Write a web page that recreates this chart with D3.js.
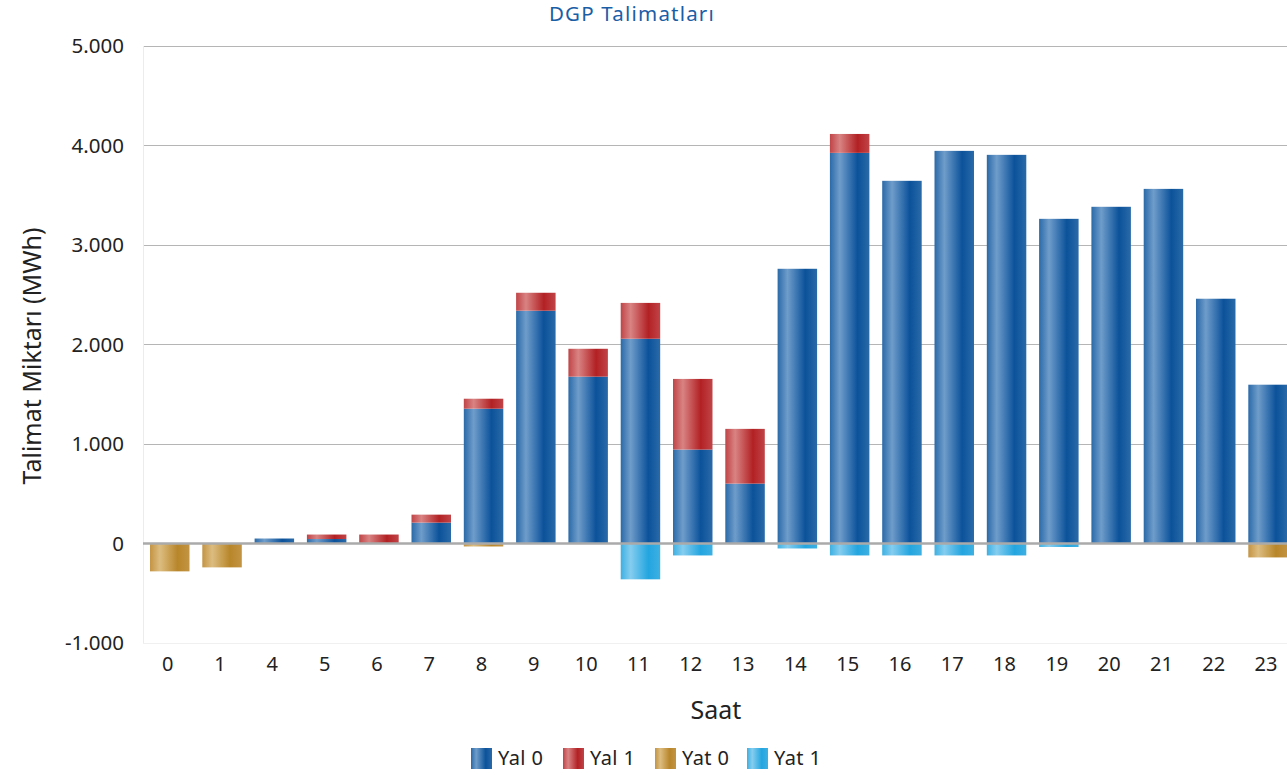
<!DOCTYPE html>
<html><head><meta charset="utf-8">
<script src="https://cdn.jsdelivr.net/npm/d3@7"></script>
<style>body{margin:0;background:#fff;font-family:"Noto Sans",sans-serif;}</style>
</head><body><svg id="c" width="1287" height="775"></svg>
<script>
const hours = ["0","1","4","5","6","7","8","9","10","11","12","13","14","15","16","17","18","19","20","21","22","23"];
const yal0 = [0,0,50,45,0,210,1355,2340,1677,2058,944,602,2761,3926,3645,3946,3906,3263,3384,3564,2460,1596];
const yal1 = [0,0,0,45,90,80,100,180,280,360,710,550,0,190,0,0,0,0,0,0,0,0];
const yat0 = [-280,-240,0,0,0,0,-30,0,0,0,0,0,0,0,0,0,0,0,0,0,0,-140];
const yat1 = [0,0,0,0,0,0,0,0,0,-360,-120,0,-50,-120,-120,-120,-120,-35,0,0,0,0];
const seriesNames = ["Yal 0","Yal 1","Yat 0","Yat 1"];
const yTicks = [-1000,0,1000,2000,3000,4000,5000];

const colors = {
  "Yal 0": ["#6f9dca","#0b529a","#2a6aa8"],
  "Yal 1": ["#d98383","#b22124","#c04447"],
  "Yat 0": ["#dcbd80","#b8862a","#c39443"],
  "Yat 1": ["#85cdef","#23a5df","#3db0e2"]
};

const svg = d3.select("#c");
const W = 1287, H = 775;
const x = d3.scaleBand().domain(hours).range([143.6, 143.6 + 22*52.3]).paddingInner(0.245).paddingOuter(0.1225);
const y = d3.scaleLinear().domain([-1000,5000]).range([643,46]);

const defs = svg.append("defs");
seriesNames.forEach((s,i)=>{
  const g = defs.append("linearGradient").attr("id","g"+i).attr("x1","0").attr("x2","1").attr("y1","0").attr("y2","0");
  const c = colors[s];
  g.append("stop").attr("offset","0").attr("stop-color",c[2]);
  g.append("stop").attr("offset","0.25").attr("stop-color",c[0]);
  g.append("stop").attr("offset","0.7").attr("stop-color",c[1]);
  g.append("stop").attr("offset","1").attr("stop-color",c[2]);
});
defs.append("clipPath").attr("id","clip").append("rect").attr("x",143).attr("y",0).attr("width",W-143).attr("height",H);

// gridlines
svg.append("g").selectAll("line").data(yTicks.filter(t=>t!==0 && t!==-1000)).join("line")
  .attr("x1",143).attr("x2",W).attr("y1",d=>y(d)).attr("y2",d=>y(d))
  .attr("stroke","#b5b5b5").attr("stroke-width",1).attr("shape-rendering","crispEdges");
// bottom faint line and left axis line
svg.append("line").attr("x1",143).attr("x2",W).attr("y1",y(-1000)+0.5).attr("y2",y(-1000)+0.5).attr("stroke","#f0f0f0");
svg.append("line").attr("x1",143.5).attr("x2",143.5).attr("y1",y(5000)).attr("y2",y(-1000)).attr("stroke","#ececec");

// y tick labels
svg.append("g").selectAll("text").data(yTicks).join("text")
  .attr("x",124).attr("y",d=>y(d)).attr("dy","0.36em").attr("text-anchor","end")
  .attr("font-size",20.5).attr("fill","#222")
  .text(d=>(d<0?"-":"") + d3.format(",")(Math.abs(d)).replace(/,/g,"."));

// stacked data
const table = hours.map((h,i)=>({hour:h,"Yal 0":yal0[i],"Yal 1":yal1[i],"Yat 0":yat0[i],"Yat 1":yat1[i]}));
const stack = d3.stack().keys(seriesNames).offset(d3.stackOffsetDiverging)(table);

const bars = svg.append("g").attr("clip-path","url(#clip)");
stack.forEach((layer,i)=>{
  bars.append("g").attr("fill",`url(#g${i})`).selectAll("rect").data(layer.filter(d=>d[1]!==d[0])).join("rect")
    .attr("x",d=>x(d.data.hour)).attr("width",x.bandwidth())
    .attr("y",d=>y(Math.max(d[0],d[1]))).attr("height",d=>Math.abs(y(d[0])-y(d[1])));
});

// zero line
svg.append("line").attr("x1",143).attr("x2",W).attr("y1",y(0)).attr("y2",y(0))
  .attr("stroke","#aaaaaa").attr("stroke-width",2.5);

// x tick labels
svg.append("g").selectAll("text").data(hours).join("text")
  .attr("x",d=>x(d)+x.bandwidth()/2-2).attr("y",671).attr("text-anchor","middle")
  .attr("font-size",20).attr("fill","#222").text(d=>d);

// axis titles
svg.append("text").attr("x",716).attr("y",719).attr("text-anchor","middle").attr("font-size",25).attr("fill","#222").text("Saat");
svg.append("text").attr("transform","translate(41,356) rotate(-90)").attr("text-anchor","middle").attr("font-size",25).attr("fill","#222").text("Talimat Miktarı (MWh)");

// title
svg.append("text").attr("x",632).attr("y",21).attr("text-anchor","middle").attr("font-size",20.5).attr("letter-spacing",1.2).attr("fill","#1a5ea6").text("DGP Talimatları");

// legend
const legX = [471,563,655,747];
const lg = svg.append("g");
seriesNames.forEach((s,i)=>{
  lg.append("rect").attr("x",legX[i]).attr("y",748).attr("width",21).attr("height",21).attr("fill",`url(#g${i})`);
  lg.append("text").attr("x",legX[i]+27).attr("y",765).attr("font-size",20).attr("letter-spacing",0.4).attr("fill","#222").text(s);
});
</script></body></html>
